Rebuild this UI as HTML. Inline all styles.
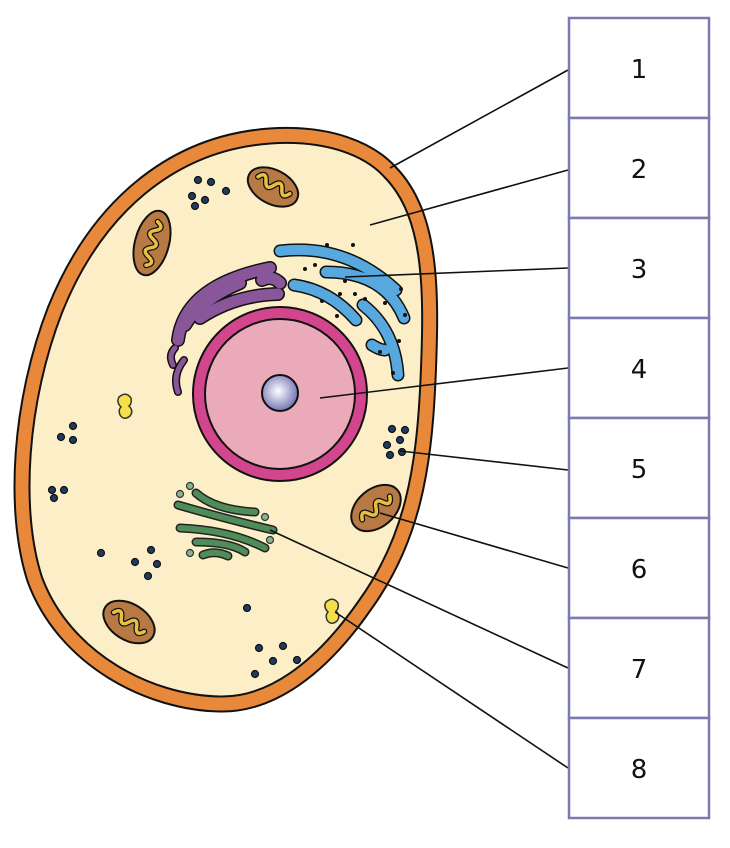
<!DOCTYPE html>
<html><head><meta charset="utf-8"><style>
html,body{margin:0;padding:0;background:#fff;width:730px;height:848px;overflow:hidden}
svg{display:block}
</style></head><body>
<svg width="730" height="848" viewBox="0 0 730 848" xmlns="http://www.w3.org/2000/svg">
<defs>
<radialGradient id="nu" cx="0.45" cy="0.45" r="0.6"><stop offset="0" stop-color="#ffffff"/><stop offset="1" stop-color="#6a6ab0"/></radialGradient>
<path id="cell" d="M390,172 C432,215 432,290 428,380 C424,470 412,540 365,605 C320,670 270,705 220,704 C150,703 65,660 35,580 C12,510 20,400 55,310 C95,210 170,143 270,136 C330,132 370,150 390,172 Z"/>
</defs>
<use href="#cell" fill="#fcefc7"/>
<use href="#cell" fill="none" stroke="#111" stroke-width="17"/>
<use href="#cell" fill="none" stroke="#e8883a" stroke-width="13"/>

<g stroke="#111" stroke-width="2">
<g transform="translate(273,187) rotate(28)"><ellipse rx="27" ry="17" fill="#b87a45"/><path d="M-18,-2 q5,-9 9,0 t9,0 t9,0 t9,0" fill="none" stroke="#111" stroke-width="6" stroke-linecap="round"/><path d="M-18,-2 q5,-9 9,0 t9,0 t9,0 t9,0" fill="none" stroke="#e8c040" stroke-width="3.5" stroke-linecap="round"/></g>
<g transform="translate(152,243) rotate(105)"><ellipse rx="33" ry="17" fill="#b87a45"/><path d="M-22,0 q5,-9 9,0 t9,0 t9,0 t9,0 t9,0" fill="none" stroke="#111" stroke-width="6" stroke-linecap="round"/><path d="M-22,0 q5,-9 9,0 t9,0 t9,0 t9,0 t9,0" fill="none" stroke="#e8c040" stroke-width="3.5" stroke-linecap="round"/></g>
<g transform="translate(376,508) rotate(-40)"><ellipse rx="28" ry="19" fill="#b87a45"/><path d="M-18,0 q5,-9 9,0 t9,0 t9,0 t9,0" fill="none" stroke="#111" stroke-width="6" stroke-linecap="round"/><path d="M-18,0 q5,-9 9,0 t9,0 t9,0 t9,0" fill="none" stroke="#e8c040" stroke-width="3.5" stroke-linecap="round"/></g>
<g transform="translate(129,622) rotate(32)"><ellipse rx="28" ry="18" fill="#b87a45"/><path d="M-18,0 q5,-9 9,0 t9,0 t9,0 t9,0" fill="none" stroke="#111" stroke-width="6" stroke-linecap="round"/><path d="M-18,0 q5,-9 9,0 t9,0 t9,0 t9,0" fill="none" stroke="#e8c040" stroke-width="3.5" stroke-linecap="round"/></g>
</g>

<g fill="none" stroke-linecap="round">
<g stroke="#111" stroke-width="14">
<path d="M178,340 Q185,285 270,268"/><path d="M200,318 Q235,295 278,294"/><path d="M262,280 Q272,275 280,283"/><path d="M185,325 Q200,300 240,283"/>
</g>
<g stroke="#111" stroke-width="8"><path d="M173,365 Q168,355 175,348"/><path d="M178,392 Q172,375 184,360"/></g>
<g stroke="#8a569a" stroke-width="11">
<path d="M178,340 Q185,285 270,268"/><path d="M200,318 Q235,295 278,294"/><path d="M262,280 Q272,275 280,283"/><path d="M185,325 Q200,300 240,283"/>
</g>
<g stroke="#8a569a" stroke-width="5"><path d="M173,365 Q168,355 175,348"/><path d="M178,392 Q172,375 184,360"/></g>
</g>

<g fill="none" stroke-linecap="round">
<g stroke="#111" stroke-width="13">
<path d="M280,251 Q345,243 396,290"/><path d="M326,272 Q385,272 404,318"/><path d="M294,285 Q330,290 356,320"/><path d="M363,305 Q395,330 398,375"/><path d="M372,345 Q380,350 385,350"/>
</g>
<g stroke="#56a8df" stroke-width="10">
<path d="M280,251 Q345,243 396,290"/><path d="M326,272 Q385,272 404,318"/><path d="M294,285 Q330,290 356,320"/><path d="M363,305 Q395,330 398,375"/><path d="M372,345 Q380,350 385,350"/>
</g>
</g>
<g fill="#111">
<circle cx="327" cy="245" r="2"/><circle cx="353" cy="245" r="2"/><circle cx="305" cy="269" r="2"/><circle cx="315" cy="265" r="2"/><circle cx="345" cy="281" r="2"/><circle cx="340" cy="294" r="2"/><circle cx="322" cy="301" r="2"/><circle cx="337" cy="316" r="2"/><circle cx="355" cy="294" r="2"/><circle cx="365" cy="299" r="2"/><circle cx="385" cy="303" r="2"/><circle cx="401" cy="289" r="2"/><circle cx="405" cy="315" r="2"/><circle cx="399" cy="341" r="2"/><circle cx="380" cy="352" r="2"/><circle cx="393" cy="373" r="2"/>
</g>

<circle cx="280" cy="394" r="87" fill="#d2468e" stroke="#111" stroke-width="2"/>
<circle cx="280" cy="394" r="75" fill="#ebaab9" stroke="#111" stroke-width="2"/>
<circle cx="280" cy="393" r="18" fill="url(#nu)" stroke="#111" stroke-width="2"/>

<g fill="none" stroke-linecap="round">
<g stroke="#222" stroke-width="9">
<path d="M196,493 Q215,510 255,512"/><path d="M178,505 Q230,520 273,530"/><path d="M180,528 Q230,530 265,548"/><path d="M196,542 Q230,542 245,552"/><path d="M203,555 Q215,550 228,556"/>
</g>
<g stroke="#4e8c5a" stroke-width="6">
<path d="M196,493 Q215,510 255,512"/><path d="M178,505 Q230,520 273,530"/><path d="M180,528 Q230,530 265,548"/><path d="M196,542 Q230,542 245,552"/><path d="M203,555 Q215,550 228,556"/>
</g>
</g>
<g fill="#8ab394" stroke="#333" stroke-width="1.2">
<circle cx="190" cy="486" r="3.5"/><circle cx="180" cy="494" r="3.5"/><circle cx="265" cy="517" r="3.5"/><circle cx="270" cy="540" r="3.5"/><circle cx="190" cy="553" r="3.5"/>
</g>

<g fill="#f5e04a" stroke="#333" stroke-width="1.5">
<path d="M119,397 q7,-6 12,1 q1,6 -2,8 q5,5 1,10 q-6,5 -10,-1 q-2,-5 1,-8 q-5,-5 -2,-10z"/>
<path d="M326,602 q7,-6 12,1 q1,6 -2,8 q5,5 1,10 q-6,5 -10,-1 q-2,-5 1,-8 q-5,-5 -2,-10z"/>
</g>

<g fill="#1f3c60" stroke="#111" stroke-width="1.2">
<circle cx="198" cy="180" r="3.5"/><circle cx="211" cy="182" r="3.5"/><circle cx="226" cy="191" r="3.5"/><circle cx="192" cy="196" r="3.5"/><circle cx="205" cy="200" r="3.5"/><circle cx="195" cy="206" r="3.5"/>
<circle cx="73" cy="426" r="3.5"/><circle cx="61" cy="437" r="3.5"/><circle cx="73" cy="440" r="3.5"/>
<circle cx="392" cy="429" r="3.5"/><circle cx="405" cy="430" r="3.5"/><circle cx="400" cy="440" r="3.5"/><circle cx="387" cy="445" r="3.5"/><circle cx="390" cy="455" r="3.5"/><circle cx="402" cy="452" r="3.5"/>
<circle cx="52" cy="490" r="3.5"/><circle cx="64" cy="490" r="3.5"/><circle cx="54" cy="498" r="3.5"/>
<circle cx="101" cy="553" r="3.5"/><circle cx="151" cy="550" r="3.5"/><circle cx="135" cy="562" r="3.5"/><circle cx="157" cy="564" r="3.5"/><circle cx="148" cy="576" r="3.5"/>
<circle cx="247" cy="608" r="3.5"/>
<circle cx="259" cy="648" r="3.5"/><circle cx="283" cy="646" r="3.5"/><circle cx="273" cy="661" r="3.5"/><circle cx="297" cy="660" r="3.5"/><circle cx="255" cy="674" r="3.5"/>
</g>

<g stroke="#111" stroke-width="1.6" fill="none">
<line x1="568" y1="70" x2="390" y2="168"/>
<line x1="568" y1="170" x2="370" y2="225"/>
<line x1="568" y1="268" x2="345" y2="277"/>
<line x1="568" y1="368" x2="320" y2="398"/>
<line x1="568" y1="470" x2="400" y2="451"/>
<line x1="568" y1="568" x2="380" y2="513"/>
<line x1="568" y1="668" x2="270" y2="530"/>
<line x1="568" y1="768" x2="335" y2="612"/>
</g>

<g fill="#fff" stroke="#7a7ab0" stroke-width="2.5">
<rect x="569" y="18" width="140" height="100"/><rect x="569" y="118" width="140" height="100"/><rect x="569" y="218" width="140" height="100"/><rect x="569" y="318" width="140" height="100"/><rect x="569" y="418" width="140" height="100"/><rect x="569" y="518" width="140" height="100"/><rect x="569" y="618" width="140" height="100"/><rect x="569" y="718" width="140" height="100"/>
</g>
<g font-family="DejaVu Sans, Liberation Sans, sans-serif" font-size="26" text-anchor="middle" fill="#111">
<text x="639" y="78">1</text><text x="639" y="178">2</text><text x="639" y="278">3</text><text x="639" y="378">4</text><text x="639" y="478">5</text><text x="639" y="578">6</text><text x="639" y="678">7</text><text x="639" y="778">8</text>
</g>
</svg>
</body></html>
